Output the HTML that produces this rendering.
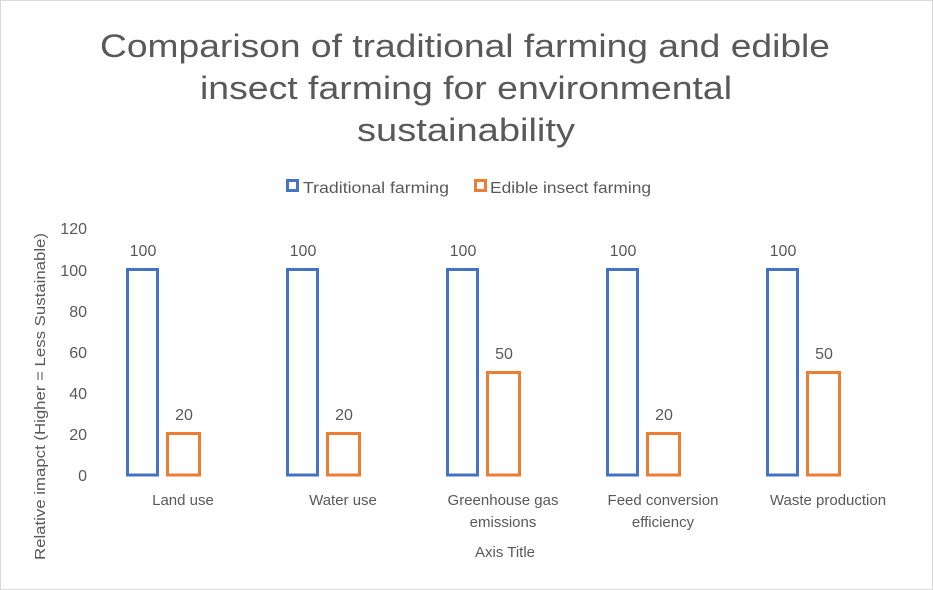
<!DOCTYPE html>
<html><head><style>
body{margin:0;background:#fff}
svg{display:block}
text{font-family:"Liberation Sans",sans-serif;fill:#595959}
</style></head><body>
<svg width="933" height="590" viewBox="0 0 933 590" xmlns="http://www.w3.org/2000/svg">
<rect x="0.5" y="0.5" width="932" height="589" fill="#fff" stroke="#d9d9d9"/>
<g font-size="32">
<text x="100" y="57" textLength="730" lengthAdjust="spacingAndGlyphs">Comparison of traditional farming and edible</text>
<text x="200" y="99" textLength="532" lengthAdjust="spacingAndGlyphs">insect farming for environmental</text>
<text x="357" y="141" textLength="218" lengthAdjust="spacingAndGlyphs">sustainability</text>
</g>
<rect x="287.5" y="180.5" width="10" height="10" fill="none" stroke="#4472C4" stroke-width="3"/>
<text x="303" y="193" font-size="16" textLength="146" lengthAdjust="spacingAndGlyphs">Traditional farming</text>
<rect x="475.5" y="180.5" width="10" height="10" fill="none" stroke="#ED7D31" stroke-width="3"/>
<text x="490" y="193" font-size="16" textLength="161" lengthAdjust="spacingAndGlyphs">Edible insect farming</text>
<g font-size="16" text-anchor="end">
<text x="87" y="481">0</text>
<text x="87" y="440">20</text>
<text x="87" y="399">40</text>
<text x="87" y="358">60</text>
<text x="87" y="317">80</text>
<text x="87" y="276">100</text>
<text x="87" y="234">120</text>
</g>
<text transform="translate(45,560) rotate(-90)" font-size="15" textLength="327" lengthAdjust="spacingAndGlyphs">Relative imapct (Higher = Less Sustainable)</text>
<g fill="none" stroke-width="3">
<rect x="127.5" y="269.5" width="30" height="205.5" stroke="#4472C4"/>
<rect x="167.5" y="433.5" width="32" height="41.5" stroke="#ED7D31"/>
<rect x="287.5" y="269.5" width="30" height="205.5" stroke="#4472C4"/>
<rect x="327.5" y="433.5" width="32" height="41.5" stroke="#ED7D31"/>
<rect x="447.5" y="269.5" width="30" height="205.5" stroke="#4472C4"/>
<rect x="487.5" y="372.5" width="32" height="102.5" stroke="#ED7D31"/>
<rect x="607.5" y="269.5" width="30" height="205.5" stroke="#4472C4"/>
<rect x="647.5" y="433.5" width="32" height="41.5" stroke="#ED7D31"/>
<rect x="767.5" y="269.5" width="30" height="205.5" stroke="#4472C4"/>
<rect x="807.5" y="372.5" width="32" height="102.5" stroke="#ED7D31"/>
</g>
<g font-size="16" text-anchor="middle">
<text x="143" y="256">100</text><text x="184" y="420">20</text>
<text x="303" y="256">100</text><text x="344" y="420">20</text>
<text x="463" y="256">100</text><text x="504" y="359">50</text>
<text x="623" y="256">100</text><text x="664" y="420">20</text>
<text x="783" y="256">100</text><text x="824" y="359">50</text>
</g>
<g font-size="15" text-anchor="middle">
<text x="183" y="505">Land use</text>
<text x="343" y="505">Water use</text>
<text x="503" y="505">Greenhouse gas</text>
<text x="503" y="527">emissions</text>
<text x="663" y="505">Feed conversion</text>
<text x="663" y="527">efficiency</text>
<text x="828" y="505">Waste production</text>
<text x="505" y="557">Axis Title</text>
</g>
</svg>
</body></html>
